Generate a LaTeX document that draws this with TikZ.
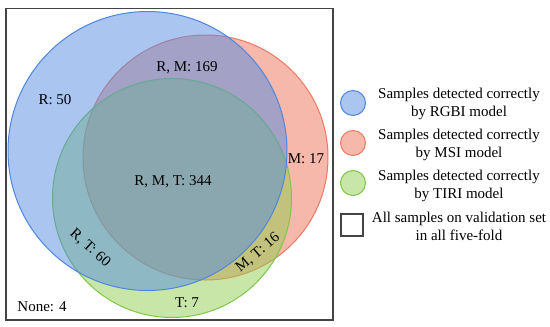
\documentclass[tikz,border=0pt]{standalone}
\usepackage{fontspec}
\setmainfont{Liberation Serif}
\usepackage{tikz}

\definecolor{rgbiFill}{RGB}{83,139,225}
\definecolor{rgbiLine}{RGB}{79,134,224}
\definecolor{msiFill}{RGB}{235,113,85}
\definecolor{msiLine}{RGB}{236,122,98}
\definecolor{tiriFill}{RGB}{145,205,81}
\definecolor{tiriLine}{RGB}{124,200,69}
\definecolor{frameGray}{RGB}{68,68,68}

\tikzset{
  setarea/.style={fill opacity=0.5,draw opacity=1,line width=1pt},
  lbl/.style={font=\fontsize{15}{18}\selectfont,inner sep=0pt},
  legtext/.style={font=\fontsize{15}{18}\selectfont,align=center,inner sep=0pt},
  legdot/.style={circle,minimum size=25pt,inner sep=0pt,line width=1pt}
}

\begin{document}
\begin{tikzpicture}[x=1pt,y=-1pt]
\useasboundingbox (0,0) rectangle (550,327);
% frame of all samples
\draw[frameGray,line width=1.6pt] (6,8.5) rectangle (333,320);
% the three sets
\draw[setarea,fill=msiFill,draw=msiLine] (205.5,157.5) circle (122.5);
\draw[setarea,fill=tiriFill,draw=tiriLine] (172,198) circle (119.5);
\draw[setarea,fill=rgbiFill,draw=rgbiLine] (147.5,151) circle (139.5);
% region counts
\node[lbl] (onlyR) at (55,100) {R: 50};
\node[lbl] (rm) at (187,68) {R, M: 169};
\node[lbl] (onlyM) at (306,159) {M: 17};
\node[lbl] (rmt) at (173,182) {R, M, T: 344};
\node[lbl,rotate=-42] (rt) at (90,248) {R, T: 60};
\node[lbl,rotate=40] (mt) at (258,253) {M, T: 16};
\node[lbl] (onlyT) at (187,303) {T: 7};
\node[lbl] (none) at (42,307) {None: 4};
% legend
\node[legdot,fill=rgbiFill!50,draw=rgbiLine] (dotR) at (353,103) {};
\node[legdot,fill=msiFill!50,draw=msiLine] (dotM) at (353,143) {};
\node[legdot,fill=tiriFill!50,draw=tiriLine] (dotT) at (353,183) {};
\node[draw=frameGray,line width=1.2pt,minimum size=22pt,inner sep=0pt] (boxAll) at (352,225) {};
\node[legtext] (txtR) at (459,104) {Samples detected correctly\\by RGBI model};
\node[legtext] (txtM) at (459,145) {Samples detected correctly\\by MSI model};
\node[legtext] (txtT) at (459,186) {Samples detected correctly\\by TIRI model};
\node[legtext] (txtAll) at (459,226) {All samples on validation set\\in all five-fold};
\end{tikzpicture}
\end{document}
